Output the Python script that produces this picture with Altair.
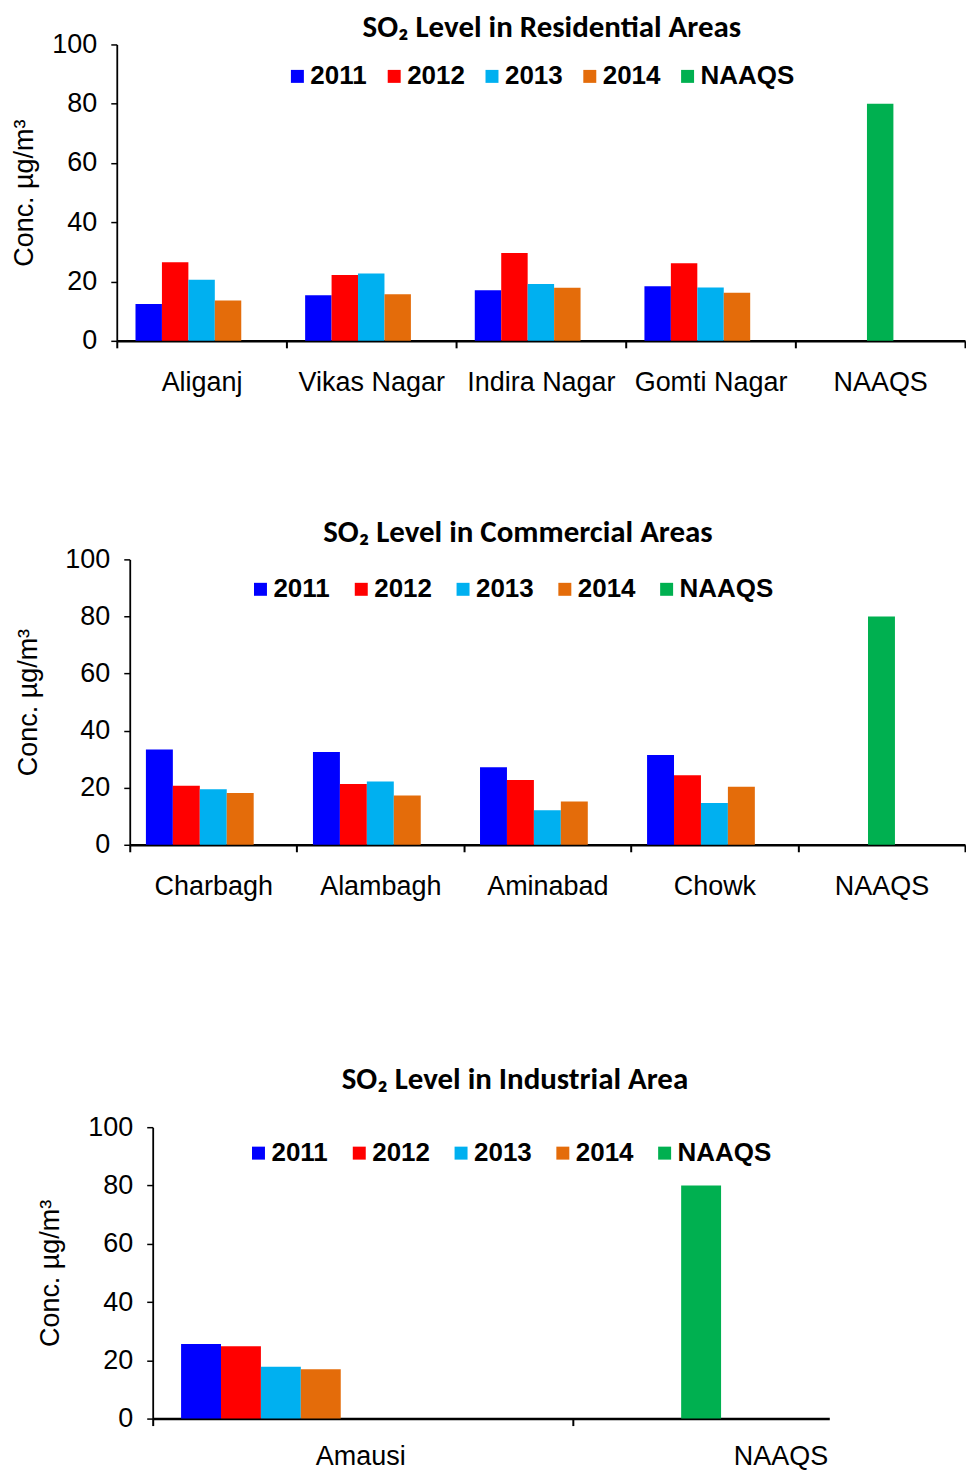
import altair as alt
import pandas as pd

# ---------------- data ----------------
SERIES = ["2011", "2012", "2013", "2014", "NAAQS"]
COLORS = ["#0000FF", "#FF0000", "#00B0F0", "#E46C0A", "#00B050"]
SLOTS = ["s1", "s2", "s3", "s4", "s5"]
SLOT_OF = {"2011": "s1", "2012": "s2", "2013": "s3", "2014": "s4", "NAAQS": "s3"}

RES_SITES = ["Aliganj", "Vikas Nagar", "Indira Nagar", "Gomti Nagar"]
RES_2011 = [12.4, 15.4, 17.1, 18.4]
RES_2012 = [26.5, 22.2, 29.6, 26.2]
RES_2013 = [20.6, 22.7, 19.2, 18.0]
RES_2014 = [13.6, 15.7, 17.9, 16.2]

COM_SITES = ["Charbagh", "Alambagh", "Aminabad", "Chowk"]
COM_2011 = [33.4, 32.5, 27.2, 31.5]
COM_2012 = [20.7, 21.3, 22.7, 24.4]
COM_2013 = [19.5, 22.2, 12.1, 14.6]
COM_2014 = [18.1, 17.3, 15.2, 20.3]

IND_SITES = ["Amausi"]
IND_2011 = [25.6]
IND_2012 = [24.8]
IND_2013 = [17.8]
IND_2014 = [16.9]

NAAQS_LABEL = "NAAQS"
NAAQS_LIMIT = 80

Y_TICKS = [0, 20, 40, 60, 80, 100]
Y_TITLE = "Conc. \u00b5g/m\u00b3"

LABEL_FONT = "Liberation Sans, Arial, sans-serif"
TITLE_FONT = "Carlito, Lato, sans-serif"


def build_frame(sites, y11, y12, y13, y14):
    rows = []
    for i, s in enumerate(sites):
        for ser, vals in zip(SERIES[:4], [y11, y12, y13, y14]):
            rows.append({"site": s, "series": ser, "slot": SLOT_OF[ser], "value": vals[i]})
    rows.append({"site": NAAQS_LABEL, "series": "NAAQS", "slot": SLOT_OF["NAAQS"], "value": NAAQS_LIMIT})
    return pd.DataFrame(rows)


def panel(df, sites, title, width, height, title_offset, title_dx,
          y_title_pad, y_offset, legend_x, legend_y, legend_gap,
          x_scale, x_axis_extra, off_outer):
    order = sites + [NAAQS_LABEL]
    x_axis = dict(
        title=None, labelAngle=0, labelFont=LABEL_FONT, labelFontSize=27,
        labelColor="black", domainColor="black", domainWidth=2.5,
        tickColor="black", tickSize=7, tickWidth=2, labelPadding=22,
    )
    x_axis.update(x_axis_extra)
    return alt.Chart(df).mark_bar().encode(
        x=alt.X("site:N", sort=order, scale=alt.Scale(**x_scale),
                axis=alt.Axis(**x_axis)),
        xOffset=alt.XOffset("slot:N", scale=alt.Scale(domain=SLOTS, paddingInner=0,
                                                      paddingOuter=off_outer)),
        y=alt.Y("value:Q", scale=alt.Scale(domain=[0, 100], nice=False),
                axis=alt.Axis(values=Y_TICKS, title=Y_TITLE, grid=False, offset=y_offset,
                              labelFont=LABEL_FONT, labelFontSize=27, labelColor="black",
                              labelPadding=14, tickSize=6, tickWidth=1.5, tickColor="black",
                              domainColor="black", domainWidth=1.8,
                              titleFont=LABEL_FONT, titleFontSize=27,
                              titleFontWeight="normal", titleColor="black",
                              titlePadding=y_title_pad)),
        color=alt.Color("series:N", scale=alt.Scale(domain=SERIES, range=COLORS),
                        legend=alt.Legend(title=None, orient="none", legendX=legend_x,
                                          legendY=legend_y, direction="horizontal",
                                          columns=5, symbolType="square", symbolSize=169,
                                          symbolStrokeWidth=0, labelFont=LABEL_FONT,
                                          labelFontSize=26, labelFontWeight="bold",
                                          labelColor="black", labelOffset=0,
                                          columnPadding=legend_gap, padding=0)),
    ).properties(
        width=width, height=height,
        title=alt.TitleParams(title, font=TITLE_FONT, fontSize=31, fontWeight="bold",
                              color="black", anchor="middle", frame="group",
                              offset=title_offset, dx=title_dx),
    )


res = panel(build_frame(RES_SITES, RES_2011, RES_2012, RES_2013, RES_2014), RES_SITES,
            "SO\u2082 Level in Residential Areas", 850, 297, -14, 11, 13, 0, 168, 19, 14,
            dict(paddingInner=0, paddingOuter=0, range=[0, 850]),
            dict(tickBand="extent"), 0.708)

com = panel(build_frame(COM_SITES, COM_2011, COM_2012, COM_2013, COM_2014), COM_SITES,
            "SO\u2082 Level in Commercial Areas", 850, 286, -4, -23, 22, -13, 131, 17, 18,
            dict(paddingInner=0, paddingOuter=0, range=[13, 850]),
            dict(tickBand="extent"), 0.6)

ind = panel(build_frame(IND_SITES, IND_2011, IND_2012, IND_2013, IND_2014), IND_SITES,
            "SO\u2082  Level in Industrial Area", 714, 292, 17, 42, 23, -36, 129, 13, 18,
            dict(paddingInner=0.39, paddingOuter=0, range=[36, 714]),
            dict(bandPosition=0, labelOffset=80, labelPadding=18), 0.711)

top = alt.concat(res, com, columns=1, spacing=122).resolve_scale(
    x="independent", y="independent", color="independent", xOffset="independent"
).resolve_legend(color="independent")

chart = alt.concat(top, ind, columns=1, spacing=165).resolve_scale(
    x="independent", y="independent", color="independent", xOffset="independent"
).resolve_legend(color="independent").properties(
    padding={"left": 2, "top": 3, "right": 0, "bottom": 0}
).configure_view(stroke=None)

chart.save("out.html", embed_options={"renderer": "svg", "actions": False})
